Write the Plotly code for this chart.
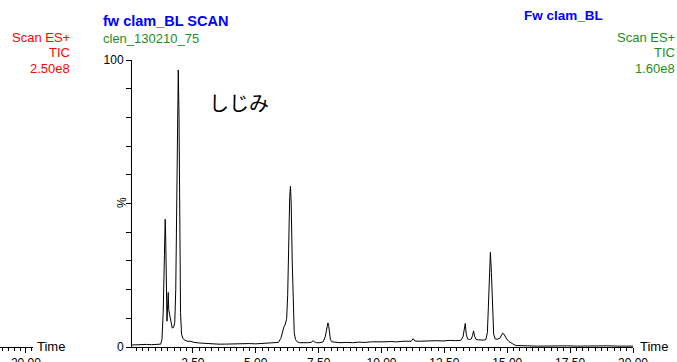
import plotly.graph_objects as go

# Total ion chromatogram, fw clam_BL SCAN (retention time in min, relative intensity in %)
TIME = [
    0.08, 0.25, 0.45, 0.65, 0.85, 1.00, 1.12, 1.22, 1.27, 1.32, 1.37, 1.40, 1.42, 1.44,
    1.47, 1.50, 1.52, 1.54, 1.57, 1.60, 1.64, 1.68, 1.73, 1.78, 1.82, 1.86, 1.89, 1.92,
    1.95, 1.98, 2.01, 2.05, 2.10, 2.18, 2.28, 2.40, 2.55, 2.75, 3.00, 3.25, 3.50, 3.75,
    4.00, 4.25, 4.50, 4.75, 5.00, 5.25, 5.50, 5.75, 5.90, 6.00, 6.06, 6.12, 6.18, 6.23,
    6.27, 6.31, 6.35, 6.38, 6.41, 6.45, 6.49, 6.53, 6.58, 6.65, 6.75, 6.90, 7.05, 7.20,
    7.28, 7.34, 7.42, 7.55, 7.68, 7.76, 7.82, 7.87, 7.90, 7.93, 7.97, 8.03, 8.15, 8.35,
    8.60, 8.85, 9.10, 9.35, 9.60, 9.85, 10.10, 10.35, 10.60, 10.85, 11.05, 11.18, 11.26,
    11.33, 11.45, 11.70, 11.95, 12.20, 12.45, 12.70, 12.95, 13.15, 13.24, 13.29, 13.33,
    13.37, 13.42, 13.50, 13.57, 13.62, 13.66, 13.70, 13.76, 13.85, 13.95, 14.05, 14.15,
    14.21, 14.25, 14.29, 14.33, 14.37, 14.41, 14.46, 14.52, 14.60, 14.70, 14.77, 14.82,
    14.86, 14.91, 14.98, 15.06, 15.15, 15.25, 15.35, 15.50, 15.80, 16.20, 16.60, 17.00,
    17.40, 17.80, 18.20, 18.60, 19.00, 19.40, 19.80, 20.00,
]
TIC_PCT = [
    0.7, 0.8, 0.7, 0.9, 0.8, 0.9, 0.8, 1.0, 2.5, 12.0, 32.0, 44.5, 38.0, 22.0,
    9.0, 15.0, 19.0, 13.0, 11.5, 9.5, 7.5, 6.6, 6.8, 8.5, 20.0, 55.0, 88.0, 96.5,
    80.0, 40.0, 12.0, 4.5, 3.0, 2.4, 2.0, 2.0, 1.6, 1.4, 1.2, 1.1, 1.0, 1.0,
    1.1, 1.0, 1.1, 1.2, 1.1, 1.2, 1.3, 1.4, 1.6, 3.0, 5.5, 7.0, 8.0, 10.0,
    18.0, 38.0, 52.0, 56.0, 50.0, 30.0, 12.0, 5.0, 2.6, 1.8, 1.5, 1.4, 1.5, 1.6,
    2.2, 1.8, 1.5, 1.5, 1.8, 3.5, 7.0, 8.4, 7.5, 4.5, 2.5, 1.8, 1.6, 1.5,
    1.6, 1.5, 1.7, 1.6, 1.8, 1.7, 1.8, 1.9, 1.8, 2.0, 1.9, 2.0, 2.9,
    2.1, 2.0, 2.1, 2.0, 2.2, 2.1, 2.3, 2.2, 2.3, 3.5, 6.0, 8.2,
    4.5, 2.8, 2.6, 2.8, 4.0, 5.6, 3.8, 2.6, 2.5, 2.4, 2.4, 2.6,
    5.0, 14.0, 27.0, 33.0, 26.0, 12.0, 4.5, 2.8, 2.7, 3.0, 3.8, 4.8,
    4.6, 3.6, 2.8, 2.0, 1.4, 0.9, 0.5, 0.4, 0.4, 0.3, 0.4, 0.3,
    0.4, 0.3, 0.4, 0.3, 0.4, 0.3, 0.4, 0.3,
]

X_RANGE = [0.08, 20.0]
X_PREV_RANGE = [18.9, 20.3]       # tail of the neighbouring chromatogram's time axis
X_TICK_STEP = 2.5
X_MINOR_STEP = 0.25
Y_TICK_STEP = 10
Y_LABELS = {0: "0", 100: "100"}

FONT = "Arial, 'Liberation Sans', sans-serif"
RED = "#ff0000"
GREEN = "#1e8c1e"
BLUE = "#0000ff"

W, H = 677, 362
M_L, M_R, M_T, M_B = 0, 44, 60, 15
PW, PH = W - M_L - M_R, H - M_T - M_B
MAIN_DOMAIN = [132 / PW, 1]
PREV_DOMAIN = [0, 33 / PW]


def to_paper(px, py):
    return (px - M_L) / PW, (H - M_B - py) / PH


fig = go.Figure()
fig.add_trace(go.Scatter(
    x=TIME, y=TIC_PCT, mode="lines",
    line=dict(color="black", width=1),
    hoverinfo="skip", showlegend=False,
))
# empty traces so the companion axes get drawn
for xa in ["x2", "x3", "x4"]:
    fig.add_trace(go.Scatter(x=[], y=[], xaxis=xa, yaxis="y", showlegend=False))

base = dict(
    ticks="outside", tickcolor="black", tickwidth=1, showgrid=False,
    zeroline=False, automargin=False, fixedrange=True,
    tickfont=dict(family=FONT, size=12, color="black"),
)
major_x = dict(
    **base, showline=True, linecolor="black", linewidth=1,
    tickmode="linear", tick0=0, dtick=X_TICK_STEP, tickformat=".2f", ticklen=5,
)
minor_x = dict(
    **base, showline=False, showticklabels=False,
    tickmode="linear", tick0=0, dtick=X_MINOR_STEP, ticklen=3,
)

y_vals = list(range(0, 101, Y_TICK_STEP))
fig.update_layout(
    width=W, height=H, template="none",
    margin=dict(l=M_L, r=M_R, t=M_T, b=M_B, pad=0),
    paper_bgcolor="white", plot_bgcolor="white",
    xaxis=dict(**major_x, domain=MAIN_DOMAIN, range=X_RANGE, anchor="y"),
    xaxis3=dict(**minor_x, domain=MAIN_DOMAIN, range=X_RANGE, anchor="y", overlaying="x"),
    xaxis2=dict(**major_x, domain=PREV_DOMAIN, range=X_PREV_RANGE, anchor="y"),
    xaxis4=dict(**minor_x, domain=PREV_DOMAIN, range=X_PREV_RANGE, anchor="y", overlaying="x2"),
    yaxis=dict(
        **base, showline=True, linecolor="black", linewidth=1,
        range=[0, 100], tickmode="array", tickvals=y_vals,
        ticktext=[Y_LABELS.get(v, "") for v in y_vals], ticklen=5, anchor="x",
    ),
    showlegend=False,
)


def label(text, px, py, color="black", size=13, xanchor="left", angle=0, family=FONT):
    x, y = to_paper(px, py)
    fig.add_annotation(
        text=text, x=x, y=y, xref="paper", yref="paper",
        xanchor=xanchor, yanchor="middle", showarrow=False, textangle=angle,
        font=dict(family=family, size=size, color=color), borderpad=0,
    )


label("<b>fw clam_BL SCAN</b>", 102, 21, BLUE, 14.5)
label("clen_130210_75", 102, 39, GREEN, 13)
label("<b>Fw clam_BL</b>", 523, 16, BLUE, 13.5)

for i, t in enumerate(["Scan ES+", "TIC", "2.50e8"]):
    label(t, 71, 38 + i * 15, RED, 13, xanchor="right")
for i, t in enumerate(["Scan ES+", "TIC", "1.60e8"]):
    label(t, 676, 38 + i * 15, GREEN, 13, xanchor="right")

label("しじみ", 208, 102, "black", 20, family="'Noto Sans CJK JP', sans-serif")
label("%", 122, 203, "black", 12, xanchor="center", angle=-90)
label("Time", 639, 346, "black", 13)
label("Time", 36, 346, "black", 13)

fig.write_html("out.html")
